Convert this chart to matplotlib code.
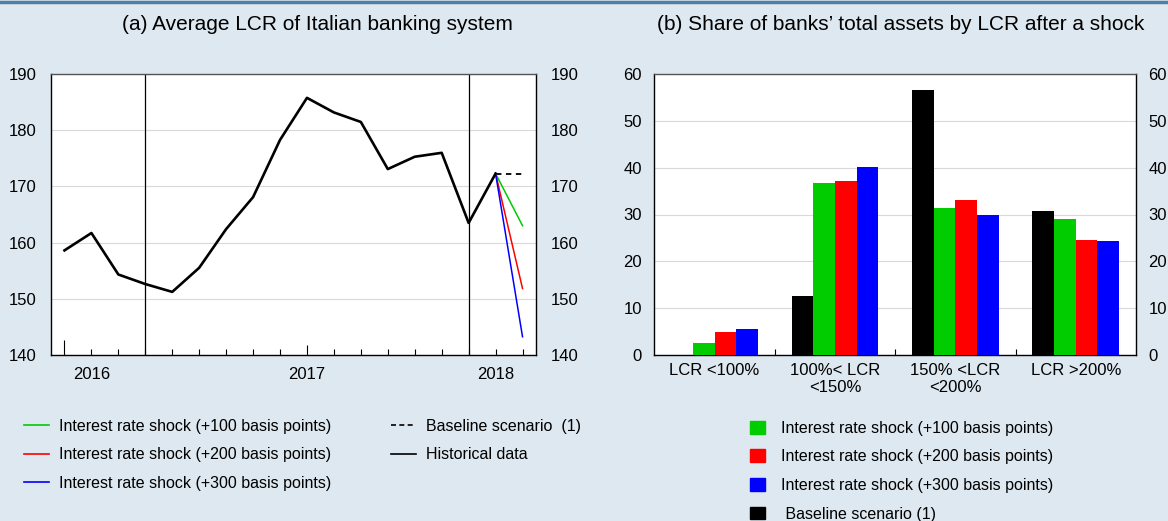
import numpy as np
import matplotlib.pyplot as plt
from matplotlib.lines import Line2D
from matplotlib.patches import Patch

plt.rcParams['font.family'] = ['Liberation Sans', 'DejaVu Sans']

# ---- panel (a): average LCR
hist = [158.6, 161.7, 154.3, 152.6, 151.2, 155.5, 162.4, 168.1, 178.3, 185.8,
        183.2, 181.5, 173.1, 175.3, 176.0, 163.5, 172.3]
shock100 = 163.0
shock200 = 151.8
shock300 = 143.2
baseline = 172.3
year_labels = ['2016', '2017', '2018']
year_pos = [1, 9, 16]
vlines_pos = [3, 15]

# ---- panel (b): share of total assets by LCR
categories = ['LCR <100%', '100%< LCR\n<150%', '150% <LCR\n<200%', 'LCR >200%']
base_b = [0.0, 12.5, 56.7, 30.7]
s100_b = [2.6, 36.7, 31.4, 29.1]
s200_b = [4.9, 37.2, 33.1, 24.5]
s300_b = [5.4, 40.1, 30.0, 24.4]

GREEN = '#00cc00'
RED = '#ff0000'
BLUE = '#0000ff'
BG = '#dde8f0'
FS = 12

fig = plt.figure(figsize=(11.68, 5.21), dpi=100, facecolor=BG)
fig.add_artist(Line2D([0, 1], [0.996, 0.996], color='#4f7fa6', lw=2.5))

axa = fig.add_axes([51/1168, 1-354.7/521, 485/1168, 280.4/521])
axb = fig.add_axes([654.3/1168, 1-354.7/521, 481.7/1168, 280.4/521])

# panel a
x = np.arange(len(hist))
last = x[-1]
nx = last + 1
for xv in vlines_pos:
    axa.axvline(xv, color='black', lw=0.9, zorder=1)
axa.plot(x, hist, color='black', lw=1.9, zorder=3)
axa.plot([last, nx], [hist[-1], baseline], color='black', lw=1.3, ls=(0, (3, 2.5)), zorder=2)
axa.plot([last, nx], [hist[-1], shock100], color=GREEN, lw=1.1, zorder=2)
axa.plot([last, nx], [hist[-1], shock200], color=RED, lw=1.1, zorder=2)
axa.plot([last, nx], [hist[-1], shock300], color=BLUE, lw=1.1, zorder=2)
axa.set_xlim(-0.5, nx + 0.5)
axa.set_ylim(140, 190)
axa.set_yticks(range(140, 191, 10))
axa.yaxis.grid(True, color='#d9d9d9', lw=0.8)
axa.set_axisbelow(True)
ticks = list(range(nx + 1))
axa.set_xticks(ticks)
axa.set_xticklabels([year_labels[year_pos.index(t)] if t in year_pos else '' for t in ticks])
axa.tick_params(axis='x', direction='in', length=4, width=0.8, pad=9, labelsize=FS)
axa.tick_params(axis='y', length=0, labelsize=FS, labelleft=True, labelright=True, pad=10.5)
mt = axa.xaxis.get_major_ticks()
mt[0].tick1line.set_markersize(11)
mt[9].tick1line.set_markersize(7)

# panel b
xb = np.arange(len(categories))
w = 0.18
for i, (vals, col) in enumerate([(base_b, 'black'), (s100_b, GREEN), (s200_b, RED), (s300_b, BLUE)]):
    axb.bar(xb + (i - 1.5) * w, vals, width=w, color=col, zorder=3)
axb.set_xlim(-0.5, 3.5)
axb.set_ylim(0, 60)
axb.set_yticks(range(0, 61, 10))
axb.yaxis.grid(True, color='#d9d9d9', lw=0.8)
axb.set_axisbelow(True)
axb.set_xticks(xb)
axb.set_xticklabels(categories, linespacing=1.2)
axb.set_xticks([0.5, 1.5, 2.5], minor=True)
axb.tick_params(axis='x', which='major', length=0, pad=6, labelsize=FS)
axb.tick_params(axis='x', which='minor', direction='in', length=4, width=0.8)
axb.tick_params(axis='y', length=0, labelsize=FS, labelleft=True, labelright=True, pad=9)

for ax in (axa, axb):
    for s in ax.spines.values():
        s.set_linewidth(1.0)
    ax.spines['top'].set_color('#555555')

fig.text(317/1168, 1-25/521, '(a) Average LCR of Italian banking system', ha='center', va='center', fontsize=15)
fig.text(901/1168, 1-25/521, "(b) Share of banks\u2019 total assets by LCR after a shock", ha='center', va='center', fontsize=15)

# legends
LFS = 11.5
h_left = [Line2D([], [], color=GREEN, lw=1.2), Line2D([], [], color=RED, lw=1.2),
          Line2D([], [], color=BLUE, lw=1.2), Line2D([], [], color='black', lw=1.2, ls=(0, (3, 2))),
          Line2D([], [], color='black', lw=1.2)]
l_left = ['Interest rate shock (+100 basis points)', 'Interest rate shock (+200 basis points)',
          'Interest rate shock (+300 basis points)', 'Baseline scenario  (1)', 'Historical data']
fig.legend(h_left, l_left, ncol=2, loc='upper left', bbox_to_anchor=(11.5/1168, 1-406/521),
           frameon=False, fontsize=LFS, handlelength=1.56, handletextpad=0.63,
           labelspacing=0.85, columnspacing=3.75, borderpad=0.3)

h_right = [Patch(color=GREEN), Patch(color=RED), Patch(color=BLUE), Patch(color='black')]
l_right = ['Interest rate shock (+100 basis points)', 'Interest rate shock (+200 basis points)',
           'Interest rate shock (+300 basis points)', ' Baseline scenario (1)']
fig.legend(h_right, l_right, loc='upper left', bbox_to_anchor=(737/1168, 1-408/521),
           frameon=False, fontsize=LFS, handlelength=0.95, handleheight=0.85, handletextpad=1.0,
           labelspacing=0.85, borderpad=0.3)

fig.savefig('out.png', dpi=100, facecolor=BG)
